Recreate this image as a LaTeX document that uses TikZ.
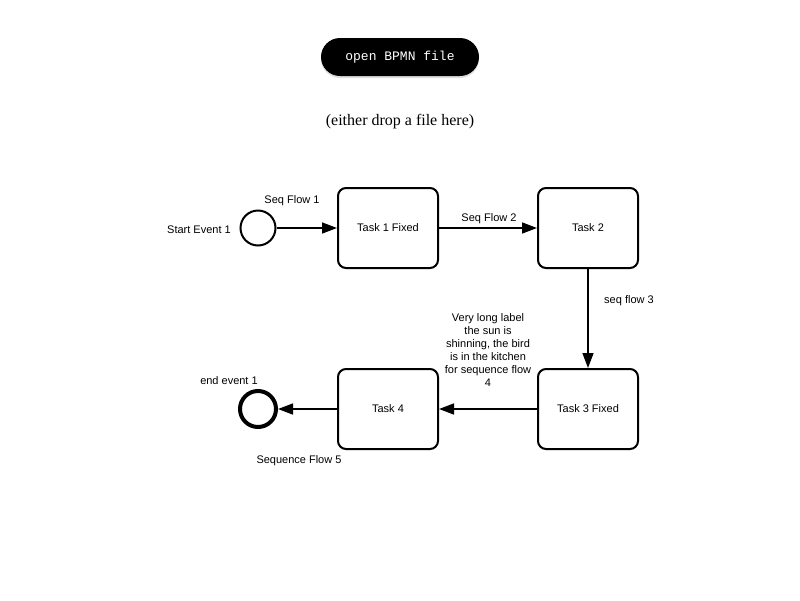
\documentclass[tikz,border=0pt]{standalone}
\usepackage{fontspec}
\setmainfont{Liberation Serif}
\setsansfont{Liberation Sans}
\setmonofont{Liberation Mono}
\usetikzlibrary{arrows.meta,shadows}
\tikzset{
  task/.style={draw,line width=2pt,rounded corners=8pt,minimum width=100pt,minimum height=80pt,inner sep=0pt,font=\sffamily\fontsize{11}{13}\selectfont},
  startev/.style={draw,circle,line width=2pt,minimum size=35pt,inner sep=0pt},
  endev/.style={draw,circle,line width=4pt,minimum size=36pt,inner sep=0pt},
  lbl/.style={font=\sffamily\fontsize{11}{13}\selectfont,align=center,inner sep=0pt},
  flow/.style={line width=1.5pt,-{Triangle[length=15pt,width=11pt]}}
}
\begin{document}
\begin{tikzpicture}[x=1pt,y=-1pt]
  \useasboundingbox (0,0) rectangle (800,600);
  \node[fill=black,rounded corners=19pt,minimum width=158pt,minimum height=38pt,inner sep=0pt,
        drop shadow={opacity=0.25,shadow xshift=0pt,shadow yshift=-2pt},
        text=white,font=\ttfamily\fontsize{13}{15}\selectfont] (openbtn) at (400,57) {\raisebox{-1pt}{open BPMN file}};
  \node[font=\fontsize{16}{19}\selectfont] (drophint) at (400,122) {(either drop a file here)};

  \node[startev] (start1) at (258,228) {};
  \node[task] (task1) at (388,228) {\raisebox{-1pt}{Task 1 Fixed}};
  \node[task] (task2) at (588,228) {\raisebox{-1pt}{Task 2}};
  \node[task] (task3) at (588,409) {\raisebox{-1pt}{Task 3 Fixed}};
  \node[task] (task4) at (388,409) {\raisebox{-1pt}{Task 4}};
  \node[endev] (end1) at (258,409) {};

  \draw[flow] (start1) -- (task1);
  \draw[flow] (task1) -- (task2);
  \draw[flow] (task2) -- (task3);
  \draw[flow] (task3) -- (task4);
  \draw[flow] (task4) -- (end1);

  \node[lbl] (start1lbl) at (199,230) {Start Event 1};
  \node[lbl] (flow1lbl) at (292,201) {Seq Flow 1};
  \node[lbl] (flow2lbl) at (489,219) {Seq Flow 2};
  \node[lbl] (flow3lbl) at (629,301) {seq flow 3};
  \node[lbl] (flow4lbl) at (488,350.5) {Very long label\\the sun is\\shinning, the bird\\is in the kitchen\\for sequence flow\\4};
  \node[lbl] (end1lbl) at (229,381) {end event 1};
  \node[lbl] (flow5lbl) at (299,461) {Sequence Flow 5};
\end{tikzpicture}
\end{document}
